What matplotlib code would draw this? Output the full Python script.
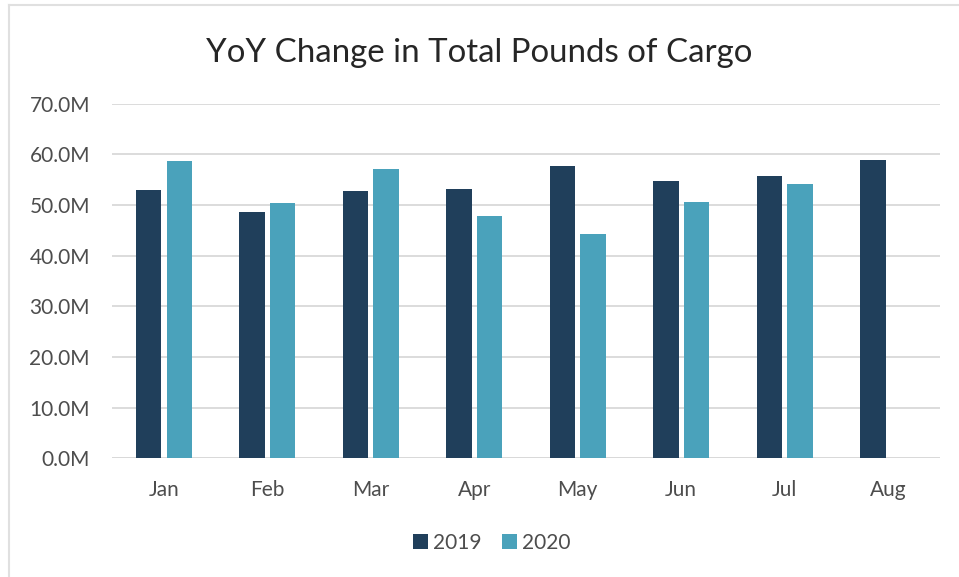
import numpy as np
import matplotlib
matplotlib.use('Agg')
import matplotlib.pyplot as plt
from matplotlib.lines import Line2D
from matplotlib.ticker import FuncFormatter

plt.rcParams['font.family'] = ['Lato', 'DejaVu Sans']

months = ['Jan', 'Feb', 'Mar', 'Apr', 'May', 'Jun', 'Jul', 'Aug']
cargo2019 = [53.0, 48.7, 52.7, 53.2, 57.8, 54.7, 55.7, 59.0]
cargo2020 = [58.8, 50.5, 57.2, 47.9, 44.3, 50.7, 54.2, np.nan]
yticks = [0, 10, 20, 30, 40, 50, 60, 70]

col19 = '#203f5b'
col20 = '#4aa2bb'
txtcol = '#4d4d4d'

fig = plt.figure(figsize=(9.59, 5.77), dpi=100)
ax = fig.add_axes([0.117, 0.206, 0.863, 0.614])

x = np.arange(len(months))
w = 0.245
ax.bar(x - w/2 - 0.025, cargo2019, width=w, color=col19, label='2019', zorder=3)
ax.bar(x + w/2 + 0.025, cargo2020, width=w, color=col20, label='2020', zorder=3)

ax.set_xlim(-0.5, len(months) - 0.5)
ax.set_ylim(0, 70)
ax.set_yticks(yticks)
ax.yaxis.set_major_formatter(FuncFormatter(lambda v, p: '%.1fM' % v))
ax.set_xticks(x)
ax.set_xticklabels(months)
ax.grid(axis='y', color='#d9d9d9', linewidth=1.3, zorder=0)
for s in ax.spines.values():
    s.set_visible(False)
ax.axhline(0, color='#d9d9d9', linewidth=1.3, zorder=2)
ax.tick_params(axis='both', length=0, labelsize=15, colors=txtcol, labelcolor=txtcol)
ax.tick_params(axis='y', pad=16)
ax.tick_params(axis='x', pad=16)

fig.text(0.5, 1 - 62/577, 'YoY Change in Total Pounds of Cargo', ha='center', va='baseline',
         fontsize=23.8, color='#262626')

fig.legend(loc='center', bbox_to_anchor=(0.513, 0.059), ncol=2, frameon=False,
           fontsize=15, handlelength=0.7, handleheight=0.7, handletextpad=0.25,
           columnspacing=1.0, labelcolor=txtcol)

# light frame lines at top and left edges
fig.add_artist(Line2D([9/959, 1], [1 - 5/577, 1 - 5/577], color='#e0e0e0', lw=1.5))
fig.add_artist(Line2D([9/959, 9/959], [0, 1 - 5/577], color='#e0e0e0', lw=1.5))

fig.savefig('out.png', dpi=100)
